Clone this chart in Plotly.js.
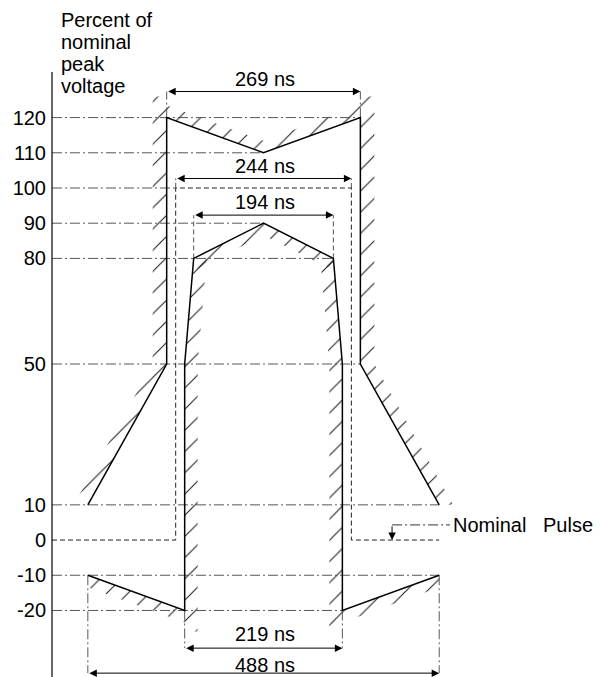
<!DOCTYPE html>
<html><head><meta charset="utf-8">
<script src="https://cdn.plot.ly/plotly-3.0.1.min.js"></script>
<style>html,body{margin:0;padding:0;background:#fff}#chart{width:601px;height:677px}</style>
</head><body><div id="chart"></div>
<script>
// ---- data -----------------------------------------------------------
// y axis ticks: percent of nominal peak voltage
const yTickVals = [120, 110, 100, 90, 80, 50, 10, 0, -10, -20];
const yTickText = ['120', '110', '100', '90', '80', '50', '10', '0', '-10', '-20'];
const titleLines = ['Percent of', 'nominal', 'peak', 'voltage'];

// time in ns (0 = pulse centre), value in %
// upper (outer) limit of the pulse mask
const upperTime = [-244, -134.5, -134.5, 0, 134.5, 134.5, 244];
const upperVal  = [10, 50, 120, 110, 120, 50, 10];
// lower (inner) limit of the pulse mask
const lowerTime = [-244, -109.5, -109.5, -97, 0, 97, 109.5, 109.5, 244];
const lowerVal  = [-10, -20, 50, 80, 90, 80, 50, -20, -10];
// nominal pulse (starts at the y axis)
const nominalTime = [-122, -122, 122, 122, 244];
const nominalVal  = [0, 100, 100, 0, 0];

// reference (dash-dot) levels and the time where each one ends
const refLevels = [120, 110, 90, 80, 50, 10, -10, -20, 100];
const refEnds   = [134.5, 0, 0, 97, 134.5, 244, 244, 109.5, -122];

// dimension arrows
const dimLabels   = ['269 ns', '244 ns', '194 ns', '219 ns', '488 ns'];
const dimWidths   = [269, 244, 194, 219, 488];
const dimFrom     = [120, 100, 80, -20, -10];      // level where extension lines start
const dimLevels   = [127.4, 102.7, 92.3, -30.7, -37.8];
const dimTextLvls = [131, 106.3, 96, -26.8, -35.4];
const dimExtDash  = ['10px,3px,2px,3px', '5px,3px', '5px,3px', '10px,3px,2px,3px', '10px,3px,2px,3px'];

// nominal pulse label and leader
const nominalLabel = 'Nominal&nbsp;&nbsp;&nbsp;Pulse';
const leaderTime = [178.5, 259];
const leaderVal  = 4.3;

// ---- layout geometry -------------------------------------------------
const W = 601, H = 677;
const xMin = -366, xMax = 468.7, yMin = -38.9, yMax = 153.4;
const KX = W / (xMax - xMin), KY = H / (yMax - yMin);
const AXIS_T = xMin + 52 / KX;
const AXIS_TOP = yMax - 72 / KY;

const FONT = 'Liberation Sans, Arial, Helvetica, sans-serif';
const FS = 20;
const traces = [];

function line(x, y, width, dash, color) {
  traces.push({type: 'scatter', mode: 'lines', x: x, y: y,
    line: {color: color || '#000', width: width, dash: dash || 'solid'},
    hoverinfo: 'skip', showlegend: false});
}
function band(ts, vs, dxPx, dyPx) {
  const dt = dxPx / KX, dv = dyPx / KY;
  const bt = ts.concat(ts.slice().reverse().map(t => t + dt));
  const bv = vs.concat(vs.slice().reverse().map(v => v + dv));
  bt.push(ts[0]); bv.push(vs[0]);
  traces.push({type: 'scatter', mode: 'none', x: bt, y: bv, fill: 'toself',
    fillcolor: 'rgba(0,0,0,0)',
    fillpattern: {shape: '/', size: 15, solidity: 0.065, fgcolor: '#111', bgcolor: 'rgba(0,0,0,0)'},
    hoverinfo: 'skip', showlegend: false});
}
const over = 6; // hatch overshoot beyond the corners (%)

// hatch bands
band([upperTime[0], upperTime[1], upperTime[2]], [upperVal[0], upperVal[1], upperVal[2] + over], -14, 0);
band(upperTime.slice(2, 5), upperVal.slice(2, 5), 0, 12);
band([upperTime[4], upperTime[5], upperTime[6]], [upperVal[4] + over, upperVal[5], upperVal[6]], 14, 0);
band([lowerTime[1], lowerTime[2], lowerTime[3]], [lowerVal[1] - over, lowerVal[2], lowerVal[3]], 13, 0);
band(lowerTime.slice(3, 6), lowerVal.slice(3, 6), 0, -12);
band([lowerTime[5], lowerTime[6], lowerTime[7]], [lowerVal[5], lowerVal[6], lowerVal[7] - over], -13, 0);
band(lowerTime.slice(0, 2), lowerVal.slice(0, 2), 0, -12);
band(lowerTime.slice(7, 9), lowerVal.slice(7, 9), 0, -12);

// reference dash-dot lines
const DD = '10px,3px,2px,3px';
refLevels.forEach((lv, i) => line([AXIS_T, refEnds[i]], [lv, lv], 0.9, DD, '#444'));

// dimension extension lines
dimWidths.forEach((w, i) => {
  line([-w / 2, -w / 2], [dimFrom[i], dimLevels[i]], 0.9, dimExtDash[i], '#444');
  line([w / 2, w / 2], [dimFrom[i], dimLevels[i]], 0.9, dimExtDash[i], '#444');
});

// nominal pulse
line([AXIS_T].concat(nominalTime), [0].concat(nominalVal), 1, '5px,3px', '#222');
// leader line
line(leaderTime, [leaderVal, leaderVal], 1, DD, '#333');

// mask limits
line(upperTime, upperVal, 1.5);
line(lowerTime, lowerVal, 1.5);

// annotations
const ann = [];
titleLines.forEach((t, i) => ann.push({x: AXIS_T + 7 / KX, y: yMax - (20 + 22 * i) / KY,
  xref: 'x', yref: 'y', text: t, showarrow: false, xanchor: 'left', yanchor: 'middle',
  font: {family: FONT, size: FS, color: '#000'}}));
dimWidths.forEach((w, i) => {
  ann.push({x: w / 2, y: dimLevels[i], ax: -w / 2, ay: dimLevels[i], xref: 'x', yref: 'y',
    axref: 'x', ayref: 'y', text: '', showarrow: true, arrowside: 'end+start',
    arrowhead: 2, startarrowhead: 2, arrowsize: 1.5, startarrowsize: 1.5,
    arrowwidth: 1, arrowcolor: '#000', standoff: 0, startstandoff: 0});
  ann.push({x: 2, y: dimTextLvls[i], xref: 'x', yref: 'y', text: dimLabels[i],
    showarrow: false, xanchor: 'center', yanchor: 'middle',
    font: {family: FONT, size: FS, color: '#000'}});
});
ann.push({x: leaderTime[0], y: nominalVal[4], ax: leaderTime[0], ay: leaderVal,
  xref: 'x', yref: 'y', axref: 'x', ayref: 'y', text: '', showarrow: true,
  arrowhead: 2, arrowsize: 1.5, arrowwidth: 1, arrowcolor: '#000', standoff: 0});
ann.push({x: leaderTime[1] + 1 / KX, y: leaderVal, xref: 'x', yref: 'y', text: nominalLabel,
  showarrow: false, xanchor: 'left', yanchor: 'middle',
  font: {family: FONT, size: FS, color: '#000'}});

const layout = {
  width: W, height: H,
  margin: {l: 0, r: 0, t: 0, b: 0},
  paper_bgcolor: '#fff', plot_bgcolor: '#fff',
  showlegend: false,
  xaxis: {range: [xMin, xMax], visible: false, fixedrange: true},
  yaxis: {range: [yMin, yMax], anchor: 'free', position: 52 / W, showgrid: false,
    zeroline: false, showline: false, ticks: '', tickvals: yTickVals, ticktext: yTickText,
    ticklabelstandoff: 6, tickfont: {family: FONT, size: FS, color: '#000'}, fixedrange: true},
  shapes: [{type: 'line', xref: 'x', yref: 'y', x0: AXIS_T, x1: AXIS_T, y0: AXIS_TOP, y1: yMin,
    line: {color: '#000', width: 1.2}}],
  annotations: ann
};

Plotly.newPlot('chart', traces, layout, {staticPlot: true, displayModeBar: false});
</script>
</body></html>
